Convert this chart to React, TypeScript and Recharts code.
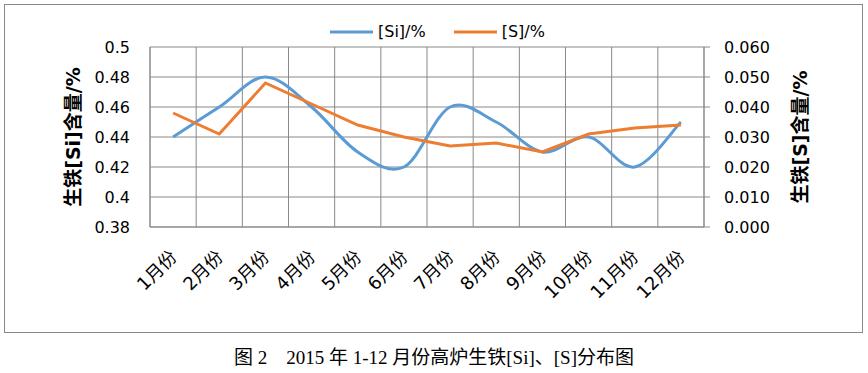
import { LineChart, Line, XAxis, YAxis, CartesianGrid } from "recharts";

const months = ["1月份", "2月份", "3月份", "4月份", "5月份", "6月份", "7月份", "8月份", "9月份", "10月份", "11月份", "12月份"];
const siValues = [0.44, 0.46, 0.48, 0.46, 0.43, 0.42, 0.46, 0.45, 0.43, 0.44, 0.42, 0.45];
const sValues = [0.038, 0.031, 0.048, 0.041, 0.034, 0.03, 0.027, 0.028, 0.025, 0.031, 0.033, 0.034];
const siTicks = [0.38, 0.4, 0.42, 0.44, 0.46, 0.48, 0.5];
const sTicks = [0, 0.01, 0.02, 0.03, 0.04, 0.05, 0.06];

const siName = "[Si]/%";
const sName = "[S]/%";
const siColor = "#5B9BD5";
const sColor = "#ED7D31";
const gridColor = "#898989";
const font = '"DejaVu Sans", "Noto Sans CJK SC", sans-serif';

const data = months.map((m, i) => ({ month: m, si: siValues[i], s: sValues[i] }));

// Excel-like smoothed line (Catmull-Rom through every point)
function smoothCurve(context: any) {
  let pts: number[][] = [];
  return {
    areaStart() {},
    areaEnd() {},
    lineStart() {
      pts = [];
    },
    point(x: number, y: number) {
      pts.push([+x, +y]);
    },
    lineEnd() {
      if (!pts.length) return;
      context.moveTo(pts[0][0], pts[0][1]);
      for (let i = 0; i < pts.length - 1; i++) {
        const p0 = pts[i - 1] || pts[i];
        const p1 = pts[i];
        const p2 = pts[i + 1];
        const p3 = pts[i + 2] || p2;
        context.bezierCurveTo(
          p1[0] + (p2[0] - p0[0]) / 6,
          p1[1] + (p2[1] - p0[1]) / 6,
          p2[0] - (p3[0] - p1[0]) / 6,
          p2[1] - (p3[1] - p1[1]) / 6,
          p2[0],
          p2[1]
        );
      }
    },
  };
}

function MonthTick(props: any) {
  const { x, y, payload } = props;
  return (
    <g transform={`translate(${x + 5},${y + 23})`}>
      <text textAnchor="end" transform="rotate(-45)" fontSize={18} fontFamily={font} fill="#000">
        {payload.value}
      </text>
    </g>
  );
}

function LegendItem({ color, name }: { color: string; name: string }) {
  return (
    <div style={{ display: "flex", alignItems: "center", marginRight: 28 }}>
      <svg width={43} height={6} style={{ marginRight: 5 }}>
        <line x1={0} y1={3} x2={43} y2={3} stroke={color} strokeWidth={3} />
      </svg>
      <span>{name}</span>
    </div>
  );
}

export default function App() {
  return (
    <div style={{ position: "absolute", left: 0, top: 0, width: 868, height: 373, background: "#fff" }}>
      <div
        style={{
          position: "absolute",
          left: 4,
          top: 4,
          width: 857,
          height: 327,
          border: `1px solid ${gridColor}`,
        }}
      />
      <div
        style={{
          position: "absolute",
          left: 330,
          top: 21,
          display: "flex",
          fontFamily: font,
          fontSize: 16,
          color: "#000",
          lineHeight: "22px",
        }}
      >
        <LegendItem color={siColor} name={siName} />
        <LegendItem color={sColor} name={sName} />
      </div>
      <div style={{ position: "absolute", left: 0, top: 0 }}>
        <LineChart width={868} height={340} data={data} margin={{ top: 47, left: 70, right: 59, bottom: 43 }}>
          <CartesianGrid
            yAxisId="left"
            stroke={gridColor}
            verticalCoordinatesGenerator={({ offset }: any) =>
              months.map((_, i) => offset.left + (i * offset.width) / months.length).concat(offset.left + offset.width)
            }
          />
          <XAxis
            dataKey="month"
            scale="band"
            interval={0}
            tickLine={false}
            axisLine={{ stroke: gridColor }}
            tick={<MonthTick />}
            height={70}
          />
          <YAxis
            yAxisId="left"
            domain={[0.38, 0.5]}
            ticks={siTicks}
            tickFormatter={(v: number) => String(Number(v.toFixed(2)))}
            tickLine={false}
            tickMargin={14}
            axisLine={{ stroke: gridColor }}
            width={80}
            tick={{ fontSize: 16, fontFamily: font, fill: "#000" }}
            label={{
              value: "生铁[Si]含量/%",
              angle: -90,
              position: "insideLeft",
              offset: 3,
              style: { textAnchor: "middle", fontSize: 19, fontWeight: "bold", fontFamily: font, fill: "#000" },
            }}
          />
          <YAxis
            yAxisId="right"
            orientation="right"
            domain={[0, 0.06]}
            ticks={sTicks}
            tickFormatter={(v: number) => v.toFixed(3)}
            tickLine={{ stroke: gridColor }}
            tickMargin={14}
            axisLine={{ stroke: gridColor }}
            width={105}
            tick={{ fontSize: 16, fontFamily: font, fill: "#000" }}
            label={{
              value: "生铁[S]含量/%",
              angle: -90,
              position: "insideRight",
              offset: 9,
              style: { textAnchor: "middle", fontSize: 19, fontWeight: "bold", fontFamily: font, fill: "#000" },
            }}
          />
          <Line
            yAxisId="left"
            dataKey="si"
            name={siName}
            type={smoothCurve as any}
            stroke={siColor}
            strokeWidth={3}
            dot={false}
            activeDot={false}
            isAnimationActive={false}
          />
          <Line
            yAxisId="right"
            dataKey="s"
            name={sName}
            type="linear"
            stroke={sColor}
            strokeWidth={3}
            dot={false}
            activeDot={false}
            isAnimationActive={false}
          />
        </LineChart>
      </div>
      <div
        style={{
          position: "absolute",
          left: 0,
          top: 342,
          width: 868,
          textAlign: "center",
          fontFamily: '"Liberation Serif", "Noto Sans CJK SC", serif',
          fontSize: 19,
          color: "#000",
          whiteSpace: "pre",
        }}
      >
        {"图 2　2015 年 1-12 月份高炉生铁[Si]、[S]分布图"}
      </div>
    </div>
  );
}
